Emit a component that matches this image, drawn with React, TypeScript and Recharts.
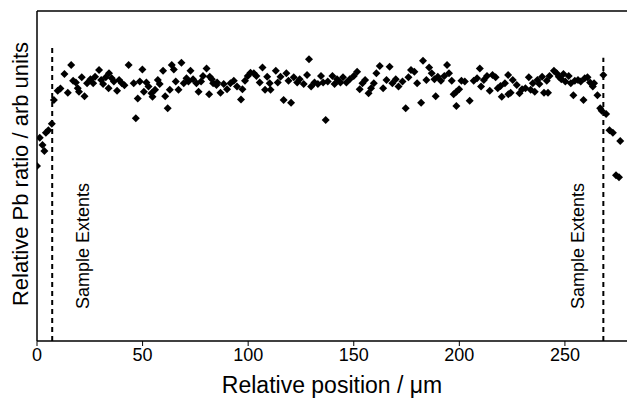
import { ScatterChart, Scatter, XAxis, YAxis, ReferenceLine } from 'recharts';

// position along the sample (µm)
const positionUm = [
  0.0, 1.3, 2.6, 3.5, 4.2, 5.4, 7.0, 8.0, 9.8, 11.1, 13.0, 14.6, 16.2, 17.1, 18.4, 19.3, 19.9, 21.2, 22.5, 23.7,
  25.3, 26.6, 27.5, 29.4, 30.4, 31.3, 32.6, 33.9, 34.1, 35.4, 36.4, 37.9, 38.9, 40.2, 41.4, 43.4, 45.8, 46.8, 47.7, 48.7,
  49.9, 50.6, 51.8, 52.8, 54.2, 54.7, 55.9, 57.2, 58.1, 59.7, 60.7, 61.9, 62.9, 63.8, 64.8, 65.7, 67.0, 68.4, 69.5, 70.8,
  71.7, 72.7, 73.9, 75.5, 76.5, 77.7, 78.6, 80.3, 81.5, 81.8, 82.8, 83.4, 85.0, 85.3, 86.9, 88.4, 90.0, 91.6, 93.2, 94.7,
  96.6, 97.3, 98.5, 99.8, 101.1, 102.7, 103.9, 105.5, 106.8, 108.0, 109.0, 110.2, 110.6, 113.1, 114.0, 115.3, 116.8, 118.1, 119.1, 120.3,
  121.6, 123.2, 124.4, 126.3, 127.9, 128.8, 129.8, 131.4, 133.0, 134.5, 135.5, 136.7, 137.7, 139.9, 140.9, 142.1, 143.7, 144.9, 146.5, 148.1,
  150.0, 151.6, 152.8, 154.1, 155.4, 157.0, 158.2, 159.5, 160.7, 162.3, 163.9, 165.5, 167.0, 168.3, 169.9, 171.2, 173.1, 174.6, 175.9, 177.1,
  178.7, 180.0, 181.9, 182.8, 184.4, 185.7, 186.9, 188.2, 188.8, 189.8, 191.3, 192.9, 194.2, 195.1, 196.4, 197.3, 198.6, 198.6, 199.9, 201.0,
  202.6, 204.9, 206.8, 208.4, 209.7, 210.3, 211.6, 213.1, 214.4, 215.7, 217.2, 218.2, 219.5, 220.1, 221.6, 223.1, 223.2, 224.3, 225.3, 227.2,
  228.5, 229.7, 231.3, 232.9, 233.8, 234.8, 235.7, 237.0, 237.9, 239.2, 240.1, 241.4, 242.0, 242.7, 244.8, 246.1, 247.1, 248.3, 249.3, 250.2,
  251.8, 252.8, 254.0, 254.7, 256.2, 257.5, 258.8, 259.4, 260.7, 261.9, 263.2, 263.8, 265.4, 266.7, 267.4, 268.2, 269.5, 271.1, 272.7, 274.2,
  275.6, 276.2,
];

// relative Pb ratio (arb units)
const pbRatio = [
  53.0, 61.6, 59.4, 57.6, 63.1, 63.9, 65.8, 73.0, 75.8, 76.5, 80.9, 75.2, 83.6, 78.9, 78.3, 76.6, 75.5, 79.9, 74.2, 78.1,
  79.3, 78.1, 80.1, 82.1, 79.1, 77.9, 79.9, 76.6, 81.1, 79.6, 78.6, 75.8, 79.1, 78.1, 77.5, 83.6, 78.1, 67.5, 73.5, 78.6,
  82.3, 75.5, 78.3, 77.1, 75.1, 74.0, 76.1, 79.1, 77.9, 81.9, 74.2, 70.5, 76.1, 83.6, 82.3, 78.6, 76.1, 84.3, 78.1, 79.6,
  78.6, 81.9, 79.3, 78.1, 75.5, 78.6, 80.3, 82.6, 74.8, 80.1, 79.3, 78.1, 77.6, 78.3, 75.2, 77.9, 76.3, 78.1, 78.9, 77.1,
  73.2, 76.3, 78.9, 80.3, 81.3, 81.1, 80.3, 78.3, 82.9, 76.1, 80.1, 78.1, 76.1, 81.9, 78.3, 80.1, 73.0, 81.1, 78.9, 72.2,
  79.9, 78.3, 79.3, 77.9, 80.6, 85.4, 77.1, 78.3, 77.9, 80.3, 78.3, 67.0, 78.6, 80.3, 77.9, 79.3, 78.3, 79.9, 78.3, 79.3,
  80.3, 81.6, 76.3, 78.1, 79.1, 75.1, 76.6, 78.1, 81.1, 83.3, 76.6, 79.1, 83.1, 78.1, 79.3, 77.1, 78.6, 70.5, 79.9, 82.1,
  81.6, 78.1, 72.2, 84.9, 79.1, 82.9, 81.1, 79.3, 74.2, 80.1, 78.9, 80.3, 83.6, 81.1, 78.9, 74.8, 75.5, 71.2, 76.3, 78.9,
  78.6, 72.8, 78.9, 79.6, 82.6, 77.1, 79.1, 80.3, 75.8, 80.6, 79.9, 76.6, 77.3, 74.0, 78.1, 80.6, 74.8, 75.2, 79.1, 77.6,
  75.1, 76.3, 76.6, 79.9, 76.1, 78.1, 75.5, 79.1, 77.9, 80.1, 75.2, 78.9, 75.2, 80.3, 81.9, 81.1, 80.1, 79.3, 80.9, 78.6,
  80.3, 78.1, 74.5, 78.9, 79.1, 78.6, 73.0, 79.6, 79.9, 78.3, 77.1, 78.1, 74.5, 70.5, 69.8, 80.6, 68.8, 63.9, 63.1, 50.2,
  49.6, 60.6,
];

const xTicks = [0, 50, 100, 150, 200, 250];
const extentPositions = [7.2, 268.2];
const extentTops = [88.8, 85.8];
const extentLabel = 'Sample Extents';

const points = positionUm.map((x, i) => ({ x, y: pbRatio[i] }));

const FONT = '"Liberation Sans", Arial, sans-serif';

function Diamond(props: any) {
  const { cx, cy } = props;
  const r = 4;
  return (
    <path
      d={`M${cx},${cy - r}L${cx + r},${cy}L${cx},${cy + r}L${cx - r},${cy}Z`}
      fill="#000"
    />
  );
}

export default function App() {
  return (
    <div style={{ position: 'relative', width: 627, height: 404, fontFamily: FONT }}>
      <style>{`body{margin:0}`}</style>
      <ScatterChart width={627} height={404} margin={{ top: 11, right: 0, bottom: 0, left: 0 }}>
        <XAxis
          type="number"
          dataKey="x"
          domain={[0, 279.4]}
          allowDataOverflow
          ticks={xTicks}
          height={63}
          tickSize={5}
          axisLine={{ stroke: '#000', strokeWidth: 1.5 }}
          tickLine={{ stroke: '#000' }}
          tick={{ fill: '#000', fontSize: 18, fontFamily: FONT }}
          label={() => (
            <text x={332} y={393} textAnchor="middle" fontSize={23} fontFamily={FONT} fill="#000">
              Relative position / μm
            </text>
          )}
        />
        <YAxis
          type="number"
          dataKey="y"
          domain={[0, 100]}
          allowDataOverflow
          width={37}
          tick={false}
          tickLine={false}
          axisLine={{ stroke: '#000', strokeWidth: 1.5 }}
          label={() => (
            <text
              x={20}
              y={174}
              transform="rotate(-90 20 174)"
              textAnchor="middle"
              dominantBaseline="central"
              fontSize={22}
              fontFamily={FONT}
              fill="#000"
            >
              Relative Pb ratio / arb units
            </text>
          )}
        />
        <ReferenceLine y={100} stroke="#000" strokeWidth={1.5} />
        {extentPositions.map((px, i) => (
          <ReferenceLine
            key={`ext-${i}`}
            segment={[{ x: px, y: 0 }, { x: px, y: extentTops[i] }]}
            stroke="#000"
            strokeWidth={2}
            strokeDasharray="5 4"
          />
        ))}
        <Scatter data={points} shape={<Diamond />} isAnimationActive={false} />
      </ScatterChart>
      <svg
        width={627}
        height={404}
        style={{ position: 'absolute', left: 0, top: 0, pointerEvents: 'none' }}
      >
        {[83, 578].map((cx, i) => (
          <text
            key={`lbl-${i}`}
            x={cx}
            y={246}
            transform={`rotate(-90 ${cx} 246)`}
            textAnchor="middle"
            dominantBaseline="central"
            fontSize={18}
            fontFamily={FONT}
            fill="#000"
          >
            {extentLabel}
          </text>
        ))}
      </svg>
    </div>
  );
}
